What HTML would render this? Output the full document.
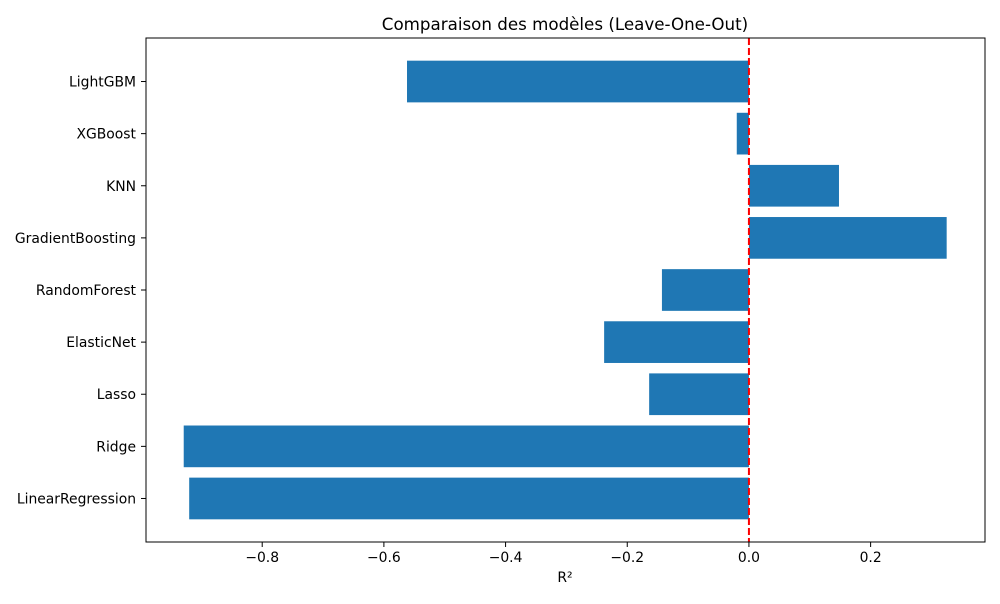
<!DOCTYPE html>
<html><head><meta charset="utf-8"><style>
body{margin:0;background:#fff;font-family:"DejaVu Sans","Liberation Sans",sans-serif}
svg text{font-family:"DejaVu Sans","Liberation Sans",sans-serif;font-size:13.9px;fill:#000}
</style></head><body>
<svg id="chart" width="1000" height="600" xmlns="http://www.w3.org/2000/svg">
<rect width="1000" height="600" fill="#fff"/>
<text x="565" y="30" text-anchor="middle" style="font-size:16.7px">Comparaison des modèles (Leave-One-Out)</text>
<g id="bars"></g>
<g id="xticks"></g>
<g id="yticks"></g>
<line id="zline" y1="38" y2="542" stroke="#ff0000" stroke-width="2" stroke-dasharray="7,3"/>
<rect x="146" y="38" width="839" height="504" fill="none" stroke="#000" stroke-width="1"/>
<text x="565" y="582" text-anchor="middle">R²</text>
</svg>
<script>
const categories=["LinearRegression","Ridge","Lasso","ElasticNet","RandomForest","GradientBoosting","KNN","XGBoost","LightGBM"];
const r2Values=[-0.920,-0.929,-0.164,-0.238,-0.143,0.325,0.148,-0.020,-0.562];
const xTickValues=[-0.8,-0.6,-0.4,-0.2,0.0,0.2];
const xTickLabels=["−0.8","−0.6","−0.4","−0.2","0.0","0.2"];
const X0=146,X1=985,Y0=38,Y1=542,xmin=-0.991,xmax=0.388,ymin=-0.835,ymax=8.835;
const xs=v=>X0+(v-xmin)/(xmax-xmin)*(X1-X0);
const ys=i=>Y1-(i-ymin)/(ymax-ymin)*(Y1-Y0);
const NS="http://www.w3.org/2000/svg";
const mk=(t,a)=>{const e=document.createElementNS(NS,t);for(const k in a)e.setAttribute(k,a[k]);return e;};
const bw=0.8*(ys(0)-ys(1));
const gb=document.getElementById('bars'),gx=document.getElementById('xticks'),gy=document.getElementById('yticks');
categories.forEach((c,i)=>{
  const v=r2Values[i];const a=Math.min(xs(0),xs(v)),b=Math.max(xs(0),xs(v));
  const r=mk('rect',{x:a,y:ys(i)-bw/2,width:b-a,height:bw,fill:'#1f77b4'});
  
  
  gb.appendChild(r);
  const tk=mk('line',{x1:X0-5,x2:X0,y1:ys(i),y2:ys(i),stroke:'#000'});
  
  
  gy.appendChild(tk);
  const t=mk('text',{x:X0-10,y:ys(i)+5,'text-anchor':'end'});t.textContent=c;
  
  
  gy.appendChild(t);
});
xTickValues.forEach((v,i)=>{
  const tk=mk('line',{x1:xs(v),x2:xs(v),y1:Y1,y2:Y1+5,stroke:'#000'});
  
  
  gx.appendChild(tk);
  const t=mk('text',{x:xs(v),y:Y1+20,'text-anchor':'middle'});t.textContent=xTickLabels[i];
  
  
  gx.appendChild(t);
});
const z=document.getElementById('zline');z.setAttribute('x1',xs(0));z.setAttribute('x2',xs(0));
</script>
</body></html>
